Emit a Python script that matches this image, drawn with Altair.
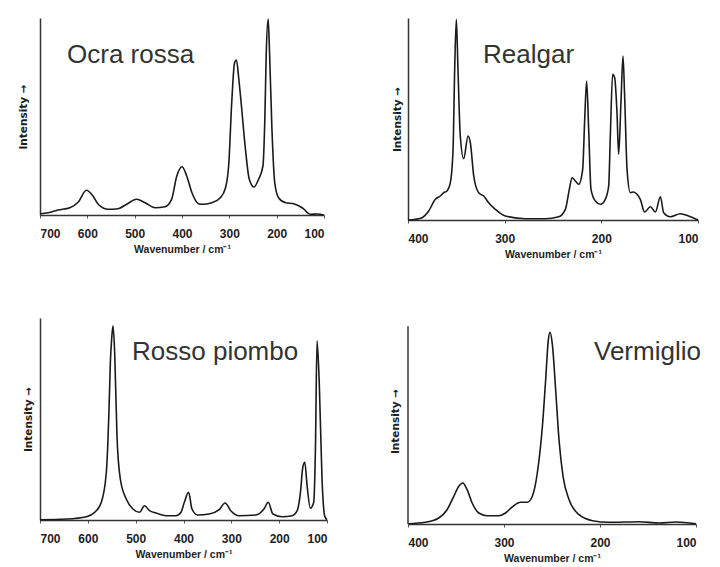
import altair as alt
import pandas as pd

# ---------------- data ----------------
ocra_wn = [700, 683, 662, 637, 619, 602, 588, 577, 556, 535, 517, 496, 478, 457, 436, 422, 411, 400,
           390, 379, 365, 358, 337, 319, 308, 301, 295, 289, 285, 280, 275, 266, 258, 248, 238, 229,
           225, 222, 218, 215, 210, 204, 196, 181, 164, 146, 128, 114, 100]
ocra_int = [1.3, 2.3, 5, 7.3, 13, 24.7, 19, 10.7, 5.7, 6.3, 10.7, 15.7, 12.3, 7.3, 8.3, 15.7, 39, 48.3,
            39, 22.3, 11.3, 10.7, 12.3, 17.3, 27.3, 52.3, 112, 152, 155, 136, 112, 66, 36, 28, 36, 49,
            96, 162, 196, 162, 86, 32, 17.3, 12.3, 11.3, 7.3, 0.7, 1, 0]

realgar_wn = [400, 392.4, 385.5, 378.6, 371.7, 366.6, 363, 359.7, 356.2, 353.4, 351.7, 350, 348.3,
              345.9, 342.4, 337.9, 335.5, 332, 326.9, 321.7, 316.6, 309.7, 299.3, 278.6, 257.9,
              244.1, 237.2, 233.1, 230.3, 226.9, 223.4, 219.3, 217.2, 215.2, 213.1, 210.7, 206.2,
              201, 195.9, 192.4, 190.7, 188.3, 186.2, 183.8, 182.1, 179.7, 177.6, 175.9, 173.4,
              170, 166.6, 163.1, 159.7, 155.2, 149.3, 144.1, 138.9, 135.5, 128.6, 118.3, 109.7, 100]
realgar_int = [0, 0.7, 2.3, 9, 20.7, 24, 27.3, 29, 37.3, 70.7, 150.7, 200.7, 150.7,
               84, 61.3, 84, 77.3, 44, 27.3, 24, 17.3, 10.7, 4, 1.3, 1.3,
               3.3, 10.7, 30.7, 42.3, 39, 35.7, 50.7, 100.7, 139, 90.7, 30.7, 19,
               15.7, 20.7, 34, 84, 145.7, 142.3, 107.3, 65.7, 117.3, 164, 124, 50.7,
               27.3, 28, 25.7, 20.7, 8, 13.3, 8, 23.3, 7.3, 3.3, 6.3, 4, 0]

rosso_wn = [700, 644.5, 602.9, 585.6, 571.7, 561.3, 555.7, 552.9, 550.2, 547.4, 543.9, 539.1, 532.1,
            519.7, 505.8, 491.9, 481.5, 471.1, 457.2, 436.4, 415.6, 405.2, 398.3, 389.3, 382.3,
            370.5, 346.2, 325.4, 313, 301.2, 283.8, 249.1, 231.8, 222.8, 213.1, 193.7, 172.8,
            162.4, 155.5, 150.6, 146.4, 141.6, 134.7, 127.8, 124.3, 120.8, 116, 110.4, 104.9, 100]
rosso_int = [0.3, 1, 3.3, 7.7, 17.7, 47.7, 111, 157.7, 181, 194.3, 167.7, 84.3, 41,
             21, 11, 7.7, 14.3, 9.3, 7, 4.3, 4.3, 7.7, 17.7, 27.7, 11,
             5, 6, 10.3, 17, 9.3, 4.3, 5, 11, 17.7, 6, 3.3, 4.3,
             9.3, 27.7, 52.7, 57.7, 34.3, 11.7, 17.7, 67.7, 179.3, 134.3, 41, 4.3, 0.3]

verm_wn = [400, 381.9, 368, 359.3, 352.3, 347.1, 342.9, 338.4, 333.2, 326.2, 317.5, 305.3, 298.4,
           290.7, 282.7, 275.7, 270.5, 265.3, 260, 256.6, 253.8, 252.1, 249.6, 246.2, 242.7,
           238.5, 232.2, 221.8, 207.9, 190.5, 159.1, 138.3, 120.9, 100]
verm_int = [0.3, 1.7, 6, 14.3, 27.7, 37.7, 41, 34.3, 21, 11, 8.3, 8.3, 11,
            17.7, 21.7, 21.7, 27.7, 51, 97.7, 144.3, 184.3, 191.7, 179.3, 134.3, 84.3,
            47.7, 24.3, 9.3, 3.3, 1.7, 2.3, 1, 2, 0.3]

ticks_wide = [700, 600, 500, 400, 300, 200, 100]
ticks_narrow = [400, 300, 200, 100]

titles = ["Ocra rossa", "Realgar", "Rosso piombo", "Vermiglio"]
x_title = "Wavenumber / cm\u207b\u00b9"
y_title = "Intensity \u2192"

FONT = "Liberation Sans"


def panel(wn, inten, ticks, w, h, ymax, title, tx, ty, tpad, axis_top=None):
    df = pd.DataFrame({"wn": wn, "i": inten})
    xenc = alt.X("wn:Q",
                 scale=alt.Scale(domain=[min(ticks), max(ticks)], reverse=True, nice=False, zero=False),
                 axis=alt.Axis(values=ticks, title=x_title, grid=False, format="d"))
    yaxis = alt.Axis(title=y_title, labels=False, ticks=False, grid=False,
                     titlePadding=tpad, domain=axis_top is None,
                     titleFont="DejaVu Sans", titleFontSize=10.5)
    yscale = alt.Scale(domain=[0, ymax], nice=False)
    line = alt.Chart(df).mark_line(interpolate="monotone", color="#1a1a1a",
                                   strokeWidth=1.6).encode(
        x=xenc, y=alt.Y("i:Q", scale=yscale, axis=yaxis))
    txt = alt.Chart(pd.DataFrame({"t": [title]})).mark_text(
        align="left", baseline="alphabetic", fontSize=26, font=FONT, color="#333333"
    ).encode(text="t:N", x=alt.value(tx), y=alt.value(ty))
    layers = [line, txt]
    if axis_top is not None:
        rule = alt.Chart(pd.DataFrame({"i": [0], "i2": [axis_top]})).mark_rule(
            color="#333333", strokeWidth=1.5
        ).encode(x=alt.value(0), y=alt.Y("i:Q", scale=yscale, axis=yaxis), y2="i2:Q")
        layers.append(rule)
    return alt.layer(*layers).properties(width=w, height=h)


p1 = panel(ocra_wn, ocra_int, ticks_wide, 284, 197, 197, titles[0], 27, 45, 12)
p2 = panel(realgar_wn, realgar_int, ticks_narrow, 290, 202, 202, titles[1], 75, 45, 6)
p3 = panel(rosso_wn, rosso_int, ticks_wide, 287, 202, 202, titles[2], 92, 42, 7)
p4 = panel(verm_wn, verm_int, ticks_narrow, 288, 206, 206, titles[3], 186, 42, 8, axis_top=197.7)

chart = alt.concat(p1, p2, p3, p4, columns=2, spacing={"row": 98, "column": 81},
                   bounds="flush").properties(
    padding={"left": 10, "top": 7, "right": 0, "bottom": 0},
    background="white",
).configure_view(stroke=None).configure_axis(
    labelFont=FONT, labelFontWeight="bold", labelFontSize=12, labelColor="#1e1e1e",
    titleFont=FONT, titleFontWeight="bold", titleFontSize=10.5, titleColor="#1e1e1e",
    domainColor="#333333", domainWidth=1.5, tickColor="#555555", tickSize=3,
    labelPadding=10, titlePadding=5,
)

chart.save("out.html", embed_options={"renderer": "svg", "actions": False})
